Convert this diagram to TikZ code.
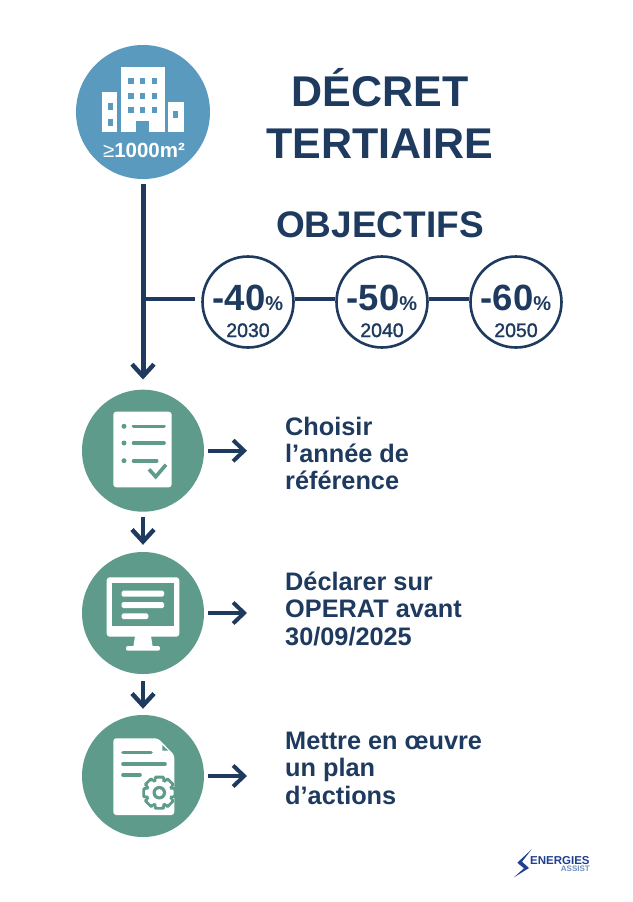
\documentclass[tikz,border=0pt]{standalone}
\usepackage{fontspec}
\setmainfont{Liberation Sans}
\usetikzlibrary{arrows.meta}
\definecolor{navy}{HTML}{1F3A5F}
\definecolor{skyb}{HTML}{5B9ABF}
\definecolor{teal}{HTML}{5F9B8A}
\definecolor{logob}{HTML}{1F3F8F}
\definecolor{logol}{HTML}{6F8FC0}
\tikzset{
  x=1pt,y=-1pt,
  topcircle/.style={circle,fill=skyb,minimum size=134pt,inner sep=0pt},
  stepcircle/.style={circle,fill=teal,minimum size=122pt,inner sep=0pt},
  goal/.style={circle,draw=navy,line width=2.6pt,fill=white,minimum size=91pt,inner sep=0pt},
  goalmain/.style={inner sep=0pt,anchor=base,text=navy},
  goalyear/.style={inner sep=0pt,anchor=base,text=navy,font=\fontsize{19.5}{20}\selectfont\addfontfeature{FakeBold=1.5}},
  wire/.style={draw=navy,line width=5pt},
  downarrow/.style={wire,-{Straight Barb[length=12pt,width=22pt,line width=4.4pt]}},
  sidearrow/.style={draw=navy,line width=4pt,-{Straight Barb[length=11pt,width=21pt,line width=4pt]}},
  thinwire/.style={draw=navy,line width=4pt},
  steptext/.style={anchor=north west,inner sep=0pt,align=left,text=navy,font=\fontsize{25.3}{27.2}\selectfont\bfseries},
  titletext/.style={inner sep=0pt,text=navy,font=\fontsize{43}{52}\selectfont\bfseries,align=center},
  teal line/.style={draw=teal,line width=3.6pt,line cap=round},
}
\newcommand{\goalpct}[1]{{\fontsize{36.5}{37}\selectfont\bfseries #1\fontsize{20}{21}\selectfont\%}}
\begin{document}
\begin{tikzpicture}
\useasboundingbox (0,0) rectangle (632,902);
\fill[white] (0,0) rectangle (632,902);

% main circles
\node[topcircle] (top) at (143,112) {};
\node[stepcircle] (n1) at (143,450.7) {};
\node[stepcircle] (n2) at (143,613) {};
\node[stepcircle] (n3) at (143,776) {};

% titles
\node[titletext] (title) at (380,113) {DÉCRET\\TERTIAIRE};
\node[inner sep=0pt,text=navy,font=\fontsize{37}{40}\selectfont\bfseries] (obj) at (380,225) {OBJECTIFS};

% goals
\node[goal] (g1) at (248,302) {};
\node[goal] (g2) at (382,302) {};
\node[goal] (g3) at (516,302) {};
\node[goalmain] (g1p) at (248,310) {\goalpct{-40}};
\node[goalmain] (g2p) at (382,310) {\goalpct{-50}};
\node[goalmain] (g3p) at (516,310) {\goalpct{-60}};
\node[goalyear] (g1y) at (248,337) {2030};
\node[goalyear] (g2y) at (382,337) {2040};
\node[goalyear] (g3y) at (516,337) {2050};

% trunk and links
\draw[downarrow,shorten <=5pt,shorten >=10pt] (top) -- (n1);
\coordinate (branch) at (143,299);
\draw[thinwire,shorten >=6pt] (branch) -- (g1.west |- branch);
\draw[thinwire] (g1.east |- branch) -- (g2.west |- branch);
\draw[thinwire] (g2.east |- branch) -- (g3.west |- branch);
\draw[downarrow,line width=4pt,shorten <=5pt,shorten >=7pt] (n1) -- (n2);
\draw[downarrow,line width=4pt,shorten <=7pt,shorten >=6pt] (n2) -- (n3);

% step labels
\node[steptext] (t1) at (285,417) {Choisir\\l’année de\\référence};
\node[steptext] (t2) at (285,572) {Déclarer sur\\OPERAT avant\\30/09/2025};
\node[steptext] (t3) at (285,732) {Mettre en œuvre\\un plan\\d’actions};
\coordinate (a1) at (247,450.7);
\coordinate (a2) at (247,613);
\coordinate (a3) at (247,776);
\draw[sidearrow,shorten <=4pt] (n1) -- (a1);
\draw[sidearrow,shorten <=4pt] (n2) -- (a2);
\draw[sidearrow,shorten <=4pt] (n3) -- (a3);

% building icon
\fill[white] (121,67) rectangle (164.7,132.3);
\fill[white] (102.3,92.3) rectangle (117.3,132.3);
\fill[white] (168.3,102) rectangle (183.7,132.3);
\fill[skyb] (136,120.7) rectangle (149.3,132.4);
\foreach \cx in {128.3,140,152}{
  \foreach \cy in {77.7,93.3,107.3}{
    \fill[skyb] (\cx,\cy) rectangle ++(5.3,6);
  }
}
\fill[skyb] (108.3,103.3) rectangle ++(5,6.7);
\fill[skyb] (108.3,119) rectangle ++(5,6.7);
\fill[skyb] (173.3,110.7) rectangle ++(5,7);
\node[anchor=base,inner sep=0pt,text=white,font=\fontsize{20.5}{21}\selectfont\bfseries] (area) at (144,157) {{\mdseries ≥}1000m²};

% checklist icon
\fill[white,rounded corners=3pt] (113.3,411.7) rectangle (171.7,487.3);
\foreach \yy/\xe in {426.3/164,443/164,460.7/156.7}{
  \fill[teal] (124,\yy) circle (2.5pt);
  \draw[teal line] (133.5,\yy) -- (\xe,\yy);
}
\draw[draw=teal,line width=3.6pt] (149,469.3) -- (155.7,476.7) -- (166,464.7);

% monitor icon
\fill[white,rounded corners=3pt] (106.7,577.3) rectangle (179.3,636.7);
\fill[teal] (112.3,583) rectangle (174,625.7);
\fill[white,rounded corners=1.5pt] (121.7,590.7) rectangle (164,596.7);
\fill[white,rounded corners=1.5pt] (121.7,602) rectangle (164,608);
\fill[white,rounded corners=1.5pt] (121.7,613.3) rectangle (148.3,619);
\fill[white] (135,636) -- (151,636) -- (152.7,647) -- (133.3,647) -- cycle;
\fill[white,rounded corners=2pt] (126,646) rectangle (160,650.7);

% document and gear icon
\fill[white,rounded corners=3pt] (113.3,738.3) -- (158,738.3) -- (174.3,755) -- (174.3,815) -- (113.3,815) -- cycle;
\fill[teal] (162.3,745) -- (168.3,750.7) -- (162.3,750.7) -- cycle;
\draw[teal line] (123,752.3) -- (151,752.3);
\draw[teal line] (123,764) -- (165,764);
\draw[teal line] (123,775) -- (140,775);
\begin{scope}[shift={(159.3,792.7)}]
  \foreach \a in {0,45,...,315}{
    \fill[teal,rotate=\a,rounded corners=1.5pt] (-5.5,-17) rectangle (5.5,0);
  }
  \fill[teal] (0,0) circle (14pt);
  \foreach \a in {0,45,...,315}{
    \fill[white,rotate=\a,rounded corners=1pt] (-3,-14.2) rectangle (3,0);
  }
  \fill[white] (0,0) circle (11.5pt);
  \fill[teal] (0,0) circle (6.8pt);
  \fill[white] (0,0) circle (3.6pt);
\end{scope}

% logo
\fill[logob] (531.7,849.3) -- (517.3,862.7) -- (524,868.3) -- (514,877.3) -- (529,868) -- (522,861.7) -- cycle;
\node[anchor=base west,inner sep=0pt,text=logob,font=\fontsize{11.5}{12}\selectfont\bfseries] (logoa) at (530,864) {ENERGIES};
\node[anchor=base east,inner sep=0pt,text=logol,font=\fontsize{8}{9}\selectfont\bfseries] (logoc) at (590,871) {ASSIST};
\end{tikzpicture}
\end{document}
